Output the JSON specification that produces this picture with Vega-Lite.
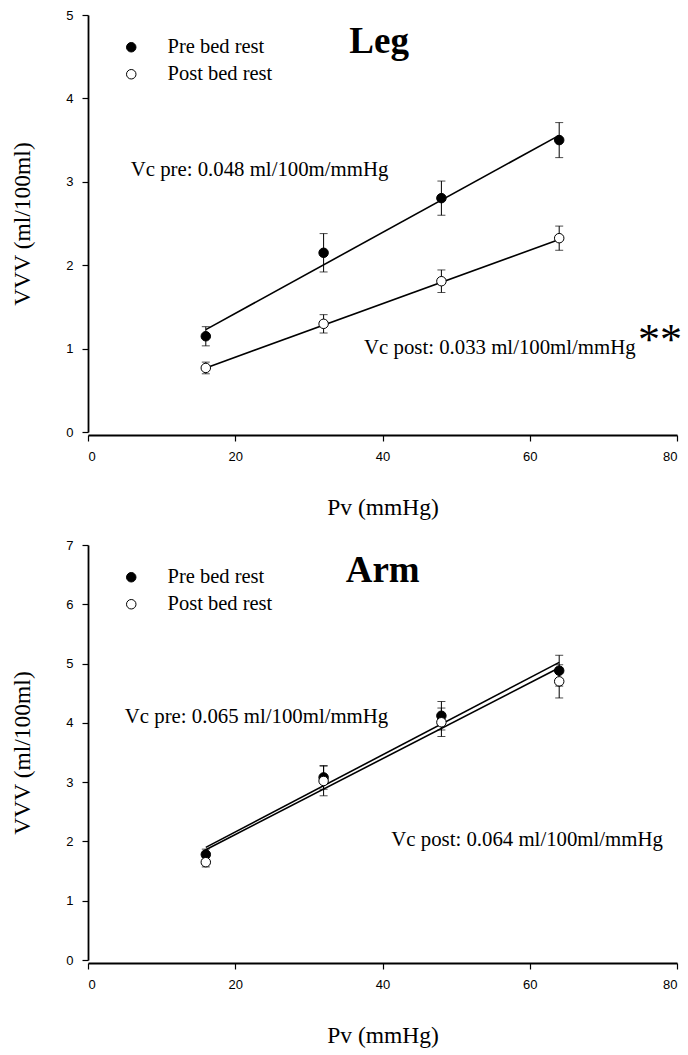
{
  "$schema": "https://vega.github.io/schema/vega-lite/v6.json",
  "background": "white",
  "padding": {"left": 10, "top": 9, "right": 5, "bottom": 5},
  "spacing": 113,
  "bounds": "flush",
  "config": {
    "view": {"stroke": null},
    "axis": {
      "grid": false,
      "domainColor": "black",
      "domainWidth": 1.8,
      "tickColor": "black",
      "tickWidth": 1.2,
      "tickSize": 6,
      "labelColor": "black",
      "labelFont": "Liberation Sans",
      "labelFontSize": 13,
      "labelPadding": 9,
      "titleFont": "Liberation Serif",
      "titleFontSize": 23.5,
      "titleFontWeight": "normal",
      "titleColor": "black"
    },
    "axisX": {"offset": 3, "titlePadding": 32},
    "axisY": {"titlePadding": 31}
  },
  "datasets": {
    "points": [
      {"panel": "Leg", "series": "Pre bed rest", "pv": 16, "vvv": 1.148, "lo": 1.033, "hi": 1.263},
      {"panel": "Leg", "series": "Pre bed rest", "pv": 32, "vvv": 2.149, "lo": 1.919, "hi": 2.379},
      {"panel": "Leg", "series": "Pre bed rest", "pv": 48, "vvv": 2.804, "lo": 2.599, "hi": 3.009},
      {"panel": "Leg", "series": "Pre bed rest", "pv": 64, "vvv": 3.5, "lo": 3.29, "hi": 3.71},
      {"panel": "Leg", "series": "Post bed rest", "pv": 16, "vvv": 0.768, "lo": 0.698, "hi": 0.838},
      {"panel": "Leg", "series": "Post bed rest", "pv": 32, "vvv": 1.297, "lo": 1.187, "hi": 1.407},
      {"panel": "Leg", "series": "Post bed rest", "pv": 48, "vvv": 1.808, "lo": 1.673, "hi": 1.943},
      {"panel": "Leg", "series": "Post bed rest", "pv": 64, "vvv": 2.324, "lo": 2.179, "hi": 2.469},
      {"panel": "Arm", "series": "Pre bed rest", "pv": 16, "vvv": 1.78, "lo": 1.69, "hi": 1.87},
      {"panel": "Arm", "series": "Pre bed rest", "pv": 32, "vvv": 3.08, "lo": 2.88, "hi": 3.28},
      {"panel": "Arm", "series": "Pre bed rest", "pv": 48, "vvv": 4.12, "lo": 3.88, "hi": 4.36},
      {"panel": "Arm", "series": "Pre bed rest", "pv": 64, "vvv": 4.88, "lo": 4.62, "hi": 5.14},
      {"panel": "Arm", "series": "Post bed rest", "pv": 16, "vvv": 1.65, "lo": 1.57, "hi": 1.73},
      {"panel": "Arm", "series": "Post bed rest", "pv": 32, "vvv": 3.02, "lo": 2.77, "hi": 3.27},
      {"panel": "Arm", "series": "Post bed rest", "pv": 48, "vvv": 4.01, "lo": 3.77, "hi": 4.25},
      {"panel": "Arm", "series": "Post bed rest", "pv": 64, "vvv": 4.7, "lo": 4.42, "hi": 4.98}
    ],
    "fits": [
      {"panel": "Leg", "series": "Pre bed rest", "pv": 16, "vvv": 1.228},
      {"panel": "Leg", "series": "Pre bed rest", "pv": 64, "vvv": 3.557},
      {"panel": "Leg", "series": "Post bed rest", "pv": 16, "vvv": 0.768},
      {"panel": "Leg", "series": "Post bed rest", "pv": 64, "vvv": 2.308},
      {"panel": "Arm", "series": "Pre bed rest", "pv": 16, "vvv": 1.9},
      {"panel": "Arm", "series": "Pre bed rest", "pv": 64, "vvv": 5.02},
      {"panel": "Arm", "series": "Post bed rest", "pv": 16, "vvv": 1.86},
      {"panel": "Arm", "series": "Post bed rest", "pv": 64, "vvv": 4.93}
    ],
    "notes": [
      {"panel": "Leg", "kind": "heading", "label": "Leg", "pv": 35.5, "vvv": 4.55},
      {"panel": "Leg", "kind": "note", "label": "Vc pre: 0.048 ml/100m/mmHg", "pv": 5.8, "vvv": 3.07},
      {"panel": "Leg", "kind": "note", "label": "Vc post: 0.033 ml/100ml/mmHg", "pv": 37.5, "vvv": 0.93},
      {"panel": "Leg", "kind": "star", "label": "**", "pv": 74.7, "vvv": 0.93},
      {"panel": "Arm", "kind": "heading", "label": "Arm", "pv": 35.0, "vvv": 6.37},
      {"panel": "Arm", "kind": "note", "label": "Vc pre: 0.065 ml/100ml/mmHg", "pv": 5.0, "vvv": 4.0},
      {"panel": "Arm", "kind": "note", "label": "Vc post: 0.064 ml/100ml/mmHg", "pv": 41.2, "vvv": 1.92}
    ]
  },
  "resolve": {"scale": {"fill": "independent", "y": "independent"}, "legend": {"fill": "independent"}},
  "vconcat": [
    {
      "width": 589,
      "height": 417,
      "encoding": {
        "x": {"field": "pv", "type": "quantitative", "scale": {"domain": [0, 80]}, "axis": {"values": [0, 20, 40, 60, 80], "title": "Pv (mmHg)"}},
        "y": {"field": "vvv", "type": "quantitative", "scale": {"domain": [0, 5]}, "axis": {"values": [0, 1, 2, 3, 4, 5], "title": "VVV (ml/100ml)"}}
      },
      "layer": [
        {
          "data": {"name": "fits"},
          "transform": [{"filter": "datum.panel === 'Leg'"}],
          "mark": {"type": "line", "color": "black", "strokeWidth": 1.6},
          "encoding": {"detail": {"field": "series"}}
        },
        {
          "data": {"name": "points"},
          "transform": [{"filter": "datum.panel === 'Leg'"}],
          "mark": {"type": "errorbar", "ticks": {"size": 8}, "thickness": 1, "color": "black"},
          "encoding": {
            "y": {"field": "lo", "type": "quantitative", "title": "VVV (ml/100ml)"},
            "y2": {"field": "hi"},
            "detail": {"field": "series"}
          }
        },
        {
          "data": {"name": "points"},
          "transform": [{"filter": "datum.panel === 'Leg'"}],
          "mark": {"type": "point", "shape": "circle", "filled": true, "size": 90, "stroke": "black", "strokeWidth": 1, "opacity": 1},
          "encoding": {
            "fill": {
              "field": "series", "type": "nominal",
              "scale": {"domain": ["Pre bed rest", "Post bed rest"], "range": ["black", "white"]},
              "legend": {"orient": "none", "legendX": 33, "legendY": 22, "title": null, "padding": 0, "labelFont": "Liberation Serif", "labelFontSize": 20.5, "labelColor": "black", "symbolType": "circle", "symbolSize": 90, "symbolStrokeColor": "black", "symbolStrokeWidth": 1, "labelOffset": 26, "rowPadding": 6}
            }
          }
        },
        {
          "data": {"name": "notes"},
          "transform": [{"filter": "datum.panel === 'Leg' && datum.kind === 'heading'"}],
          "mark": {"type": "text", "font": "Liberation Serif", "fontSize": 37, "fontWeight": "bold", "align": "left", "baseline": "alphabetic", "color": "black"},
          "encoding": {"text": {"field": "label"}}
        },
        {
          "data": {"name": "notes"},
          "transform": [{"filter": "datum.panel === 'Leg' && datum.kind === 'note'"}],
          "mark": {"type": "text", "font": "Liberation Serif", "fontSize": 20.8, "align": "left", "baseline": "alphabetic", "color": "black"},
          "encoding": {"text": {"field": "label"}}
        },
        {
          "data": {"name": "notes"},
          "transform": [{"filter": "datum.panel === 'Leg' && datum.kind === 'star'"}],
          "mark": {"type": "text", "font": "Liberation Serif", "fontSize": 44, "align": "left", "baseline": "alphabetic", "color": "black"},
          "encoding": {"text": {"field": "label"}}
        }
      ]
    },
    {
      "width": 589,
      "height": 415,
      "encoding": {
        "x": {"field": "pv", "type": "quantitative", "scale": {"domain": [0, 80]}, "axis": {"values": [0, 20, 40, 60, 80], "title": "Pv (mmHg)"}},
        "y": {"field": "vvv", "type": "quantitative", "scale": {"domain": [0, 7]}, "axis": {"values": [0, 1, 2, 3, 4, 5, 6, 7], "title": "VVV (ml/100ml)"}}
      },
      "layer": [
        {
          "data": {"name": "fits"},
          "transform": [{"filter": "datum.panel === 'Arm'"}],
          "mark": {"type": "line", "color": "black", "strokeWidth": 1.6},
          "encoding": {"detail": {"field": "series"}}
        },
        {
          "data": {"name": "points"},
          "transform": [{"filter": "datum.panel === 'Arm'"}],
          "mark": {"type": "errorbar", "ticks": {"size": 8}, "thickness": 1, "color": "black"},
          "encoding": {
            "y": {"field": "lo", "type": "quantitative", "title": "VVV (ml/100ml)"},
            "y2": {"field": "hi"},
            "detail": {"field": "series"}
          }
        },
        {
          "data": {"name": "points"},
          "transform": [{"filter": "datum.panel === 'Arm'"}],
          "mark": {"type": "point", "shape": "circle", "filled": true, "size": 90, "stroke": "black", "strokeWidth": 1, "opacity": 1},
          "encoding": {
            "fill": {
              "field": "series", "type": "nominal",
              "scale": {"domain": ["Pre bed rest", "Post bed rest"], "range": ["black", "white"]},
              "legend": {"orient": "none", "legendX": 33, "legendY": 22, "title": null, "padding": 0, "labelFont": "Liberation Serif", "labelFontSize": 20.5, "labelColor": "black", "symbolType": "circle", "symbolSize": 90, "symbolStrokeColor": "black", "symbolStrokeWidth": 1, "labelOffset": 26, "rowPadding": 6}
            }
          }
        },
        {
          "data": {"name": "notes"},
          "transform": [{"filter": "datum.panel === 'Arm' && datum.kind === 'heading'"}],
          "mark": {"type": "text", "font": "Liberation Serif", "fontSize": 37, "fontWeight": "bold", "align": "left", "baseline": "alphabetic", "color": "black"},
          "encoding": {"text": {"field": "label"}}
        },
        {
          "data": {"name": "notes"},
          "transform": [{"filter": "datum.panel === 'Arm' && datum.kind === 'note'"}],
          "mark": {"type": "text", "font": "Liberation Serif", "fontSize": 20.8, "align": "left", "baseline": "alphabetic", "color": "black"},
          "encoding": {"text": {"field": "label"}}
        }
      ]
    }
  ]
}
